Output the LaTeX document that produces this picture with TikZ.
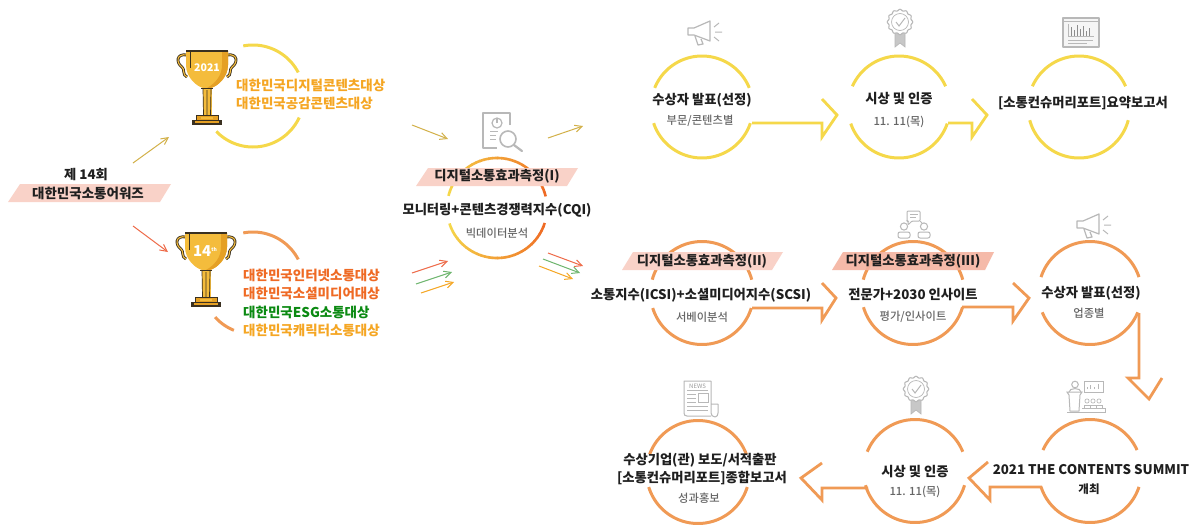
\documentclass[tikz,border=0pt]{standalone}
\usepackage{fontspec}
\setmainfont{Noto Sans CJK KR}
\newfontfamily\subfont{Noto Sans CJK KR Medium}
\usetikzlibrary{arrows.meta}
\definecolor{yel}{HTML}{F5D84A}
\definecolor{org}{HTML}{F09A55}
\definecolor{goldT}{HTML}{F5A623}
\definecolor{redT}{HTML}{EF6A24}
\definecolor{grnT}{HTML}{0B8A12}
\definecolor{ban}{HTML}{F9D2C8}
\definecolor{ban3}{HTML}{F5B3A0}
\definecolor{ico}{HTML}{B8B8B8}
\definecolor{cupA}{HTML}{F4BC3C}
\definecolor{cupB}{HTML}{E5A024}
\definecolor{dk}{HTML}{3A3020}
\definecolor{tgold}{HTML}{D2B048}
\definecolor{tred}{HTML}{EE6A48}
\definecolor{tgrn}{HTML}{6DB56D}
\tikzset{
  x=1pt,y=-1pt,
  main/.style={inner sep=0pt,font=\fontsize{13.3}{15}\selectfont\bfseries,text=black!88},
  sub/.style={inner sep=0pt,font=\subfont\fontsize{11.3}{13}\selectfont,text=black!60},
  award/.style={inner sep=0pt,anchor=west,font=\fontsize{13.5}{15}\selectfont\bfseries},
  fatY/.style={draw=yel,line width=2.8pt,line join=miter,miter limit=6},
  fatO/.style={draw=org,line width=2.8pt,line join=miter,miter limit=6},
  thin/.style={line width=1pt,-{Straight Barb[length=7pt,width=7pt]}},
  ic/.style={draw=ico,line width=1.2pt,line join=round},
  icf/.style={draw=ico,line width=.7pt},
}
\newcommand{\parc}[6]{\draw[#1,line width=#6] plot[domain=#4:#5,samples=50] ({\cx+#2*cos(\x)},{\cy-#2*sin(\x)});}
\newcommand{\ring}[7]{%
  \def\cx{#2}\def\cy{#3}%
  \parc{#1}{#4}{}{180-#5}{#5}{#7}%
  \parc{#1}{#4}{}{180+#6}{360-#6}{#7}%
}
\newcommand{\megaphone}[2]{\begin{scope}[shift={(#1,#2)}]
  \draw[ic] (0,8) -- (0,15) -- (6,15) -- (22,21) -- (22,1) -- (6,8) -- cycle;
  \draw[ic] (7,16) -- (10,25) -- (15,24) -- (13,19);
  \draw[icf,line width=1pt] (26,7) -- (31,3) (27,12) -- (34,12) (26,17) -- (31,21);
\end{scope}}
\newcommand{\badge}[2]{\begin{scope}[shift={(#1,#2)}]
  \draw[icf,fill=black!22] (8,22) -- (8,37) -- (13,33) -- (18,37) -- (18,22) -- cycle;
  \draw[icf,line width=1.1pt,fill=white] plot[domain=0:360,samples=97] ({13+(12+.7*cos(12*\x))*cos(\x)},{12+(12+.7*cos(12*\x))*sin(\x)}) -- cycle;
  \draw[icf] (13,12) circle (8.5);
  \draw[icf,line width=1pt] (9,12) -- (12,16) -- (18,8);
\end{scope}}
\newcommand{\trophy}[2]{\begin{scope}[shift={(#1,#2)}]
  \draw[dk,line width=2.8pt] (-20,5) .. controls (-31,3) and (-31,13) .. (-25,17) .. controls (-22,19) and (-25,25) .. (-20,27);
  \draw[dk,line width=2.8pt] (20,5) .. controls (31,3) and (31,13) .. (25,17) .. controls (22,19) and (25,25) .. (20,27);
  \draw[cupA,line width=1.1pt] (-20,5) .. controls (-31,3) and (-31,13) .. (-25,17) .. controls (-22,19) and (-25,25) .. (-20,27);
  \draw[cupA,line width=1.1pt] (20,5) .. controls (31,3) and (31,13) .. (25,17) .. controls (22,19) and (25,25) .. (20,27);
  \fill[cupA] (-21,1) -- (21,1) -- (21,15) .. controls (21,27) and (11,36) .. (4,38) -- (-4,38) .. controls (-11,36) and (-21,27) .. (-21,15) -- cycle;
  \fill[cupB] (15,1) -- (21,1) -- (21,15) .. controls (21,27) and (11,36) .. (4,38) -- (0,38) .. controls (9,33) and (15,25) .. (15,15) -- cycle;
  \draw[dk,line width=1.1pt] (-21,1) -- (21,1);
  \draw[dk,line width=.8pt] (-17,1) -- (-17,18);
  \draw[dk,line width=.7pt] (-6,38.3) -- (6,38.3);
  \fill[cupA] (-4.5,39) rectangle (4.5,65);
  \draw[dk,line width=.7pt] (-4,39) -- (-3.5,65) (4,39) -- (3.5,65) (0,40) -- (0,65);
  \fill[cupB] (-11,65) rectangle (11,70);
  \draw[dk,line width=.8pt] (-11,70) -- (-11,65) -- (11,65) -- (11,70);
  \fill[cupA] (-6,66.5) rectangle (6,69);
  \fill[dk] (-15,70) rectangle (15,75);
  \fill[cupB] (-12,70.5) rectangle (12,72.5);
\end{scope}}
\begin{document}
\begin{tikzpicture}
\useasboundingbox (0,0) rectangle (1200,531);
\fill[white] (0,0) rectangle (1200,531);

% ---- rings
\ring{yel}{702}{107}{51}{22}{18.5}{3pt}
\ring{yel}{899}{107}{51}{24}{19}{3pt}
\ring{yel}{1079}{107}{51}{24}{15}{3pt}
\ring{org}{702}{293}{51.5}{15}{17}{3pt}
\ring{org}{913}{293}{51.5}{15}{16}{3pt}
\ring{org}{1090}{293}{51.5}{18}{22}{3pt}
\ring{org}{1090}{471}{51.5}{24}{18}{3pt}
\ring{org}{915}{471}{51.5}{22}{16}{3pt}
\ring{org}{698}{472}{51.5}{20}{17}{3pt}

% award arcs
\def\cx{253}\def\cy{96}
\parc{yel}{51}{}{101}{27.5}{3pt}
\parc{yel}{51}{}{224}{335}{3pt}
\def\cx{253}\def\cy{283}
\parc{org}{51}{}{101}{27.5}{3pt}
\parc{org}{51}{}{222}{248}{3pt}

% gradient ring
\def\cx{497}\def\cy{208}
\foreach \i in {0,...,29}{
  \pgfmathsetmacro\pa{166-\i*152/30}
  \pgfmathsetmacro\pb{166-(\i+1)*152/30-.6}
  \pgfmathsetmacro\mix{100-\i*100/29}
  \parc{yel!\mix!redT}{50}{}{\pa}{\pb}{2.6pt}
  \pgfmathsetmacro\pa{198+\i*144/30}
  \pgfmathsetmacro\pb{198+(\i+1)*144/30+.6}
  \parc{yel!\mix!redT}{50}{}{\pa}{\pb}{2.6pt}
}

% ---- banners
\fill[ban] (8,202) -- (20,184) -- (171,184) -- (160,202) -- cycle;
\fill[ban] (416,186) -- (428,168) -- (578,168) -- (567,186) -- cycle;
\fill[ban] (622,270) -- (633,252) -- (783,252) -- (772,270) -- cycle;
\fill[ban3,opacity=.9] (832,270) -- (843,252) -- (994,252) -- (985,270) -- cycle;

% ---- fat arrows
\coordinate (a1s) at (752,123); \coordinate (a1e) at (822,99);
\draw[fatY] (a1s) -- (822,123) -- (822,137) -- (837,115) -- (a1e);
\coordinate (a2s) at (948,123); \coordinate (a2e) at (972,99);
\draw[fatY] (a2s) -- (972,123) -- (972,137) -- (987,115) -- (a2e);
\coordinate (a3s) at (752,308); \coordinate (a3e) at (822,283);
\draw[fatO] (a3s) -- (822,308) -- (822,320) -- (836,298) -- (a3e);
\coordinate (a4s) at (962,307); \coordinate (a4e) at (1013,283);
\draw[fatO] (a4s) -- (1013,307) -- (1013,321) -- (1029,298) -- (a4e);
\coordinate (a5s) at (1139,313); \coordinate (a5e) at (1162,378);
\draw[fatO] (a5s) -- (1139,378) -- (1128,378) -- (1149,399) -- (a5e);
\coordinate (a6s) at (1042,487); \coordinate (a6e) at (988,462);
\draw[fatO] (a6s) -- (990,487) -- (990,500) -- (969,478) -- (a6e);
\coordinate (a7s) at (868,488); \coordinate (a7e) at (822,463);
\draw[fatO] (a7s) -- (822,488) -- (822,500) -- (801,478) -- (a7e);

% ---- thin arrows
\coordinate (t1s) at (133,163); \coordinate (t1e) at (169,137);
\draw[thin,draw=tgold] (t1s) -- (t1e);
\coordinate (t2s) at (133,226); \coordinate (t2e) at (168,252);
\draw[thin,draw=tred] (t2s) -- (t2e);
\coordinate (t3s) at (412,125); \coordinate (t3e) at (448,139);
\draw[thin,draw=tgold] (t3s) -- (t3e);
\coordinate (t4s) at (548,138); \coordinate (t4e) at (583,126);
\draw[thin,draw=tgold] (t4s) -- (t4e);
\coordinate (t5s) at (412,273); \coordinate (t5e) at (448,261);
\draw[thin,draw=tred] (t5s) -- (t5e);
\coordinate (t6s) at (416,284); \coordinate (t6e) at (452,272);
\draw[thin,draw=tgrn] (t6s) -- (t6e);
\coordinate (t7s) at (421,293); \coordinate (t7e) at (454,282);
\draw[thin,draw=goldT] (t7s) -- (t7e);
\coordinate (t8s) at (548,253); \coordinate (t8e) at (583,266);
\draw[thin,draw=tred] (t8s) -- (t8e);
\coordinate (t9s) at (543,259); \coordinate (t9e) at (580,273);
\draw[thin,draw=tgrn] (t9s) -- (t9e);
\coordinate (t10s) at (539,266); \coordinate (t10e) at (573,279);
\draw[thin,draw=goldT] (t10s) -- (t10e);

% ---- trophies
\trophy{207}{50}
\node[inner sep=0pt,text=white,font=\fontsize{10.5}{12}\selectfont\bfseries] (y2021) at (207,68) {2021};
\trophy{206}{232}
\node[inner sep=0pt,text=white,font=\fontsize{15}{16}\selectfont\bfseries] (y14) at (205,251) {14\raisebox{5pt}{\fontsize{5}{5}\selectfont th}};

% ---- icons
\megaphone{688}{20}
\megaphone{1077}{213}
\badge{887}{10}
\badge{903}{377}
% report
\begin{scope}[shift={(1063,18)}]
  \draw[ic,fill=black!4] (0,0) rectangle (36,29);
  \draw[ic] (0,3.5) -- (36,3.5);
  \draw[icf] (5,6) -- (5,18) -- (31,18);
  \foreach \h/\xx in {9/8,6/11,11/14,7/17,10/20,5/23,8/26}{\draw[icf,draw=black!45] (\xx,18) -- (\xx,18-\h);}
  \draw[icf] (5,22) -- (30,22) (5,25) -- (24,25);
\end{scope}
% document + magnifier
\begin{scope}[shift={(483,113)}]
  \draw[ic,line width=1.5pt] (27,12) -- (27,0) -- (0,0) -- (0,35) -- (14,35);
  \draw[ic] (14,10) circle (5);
  \draw[ic] (14,10) -- (14,5);
  \draw[icf] (7,18) -- (15,18) (7,22) -- (13,22) (7,26) -- (13,26);
  \draw[ic,line width=1.6pt,fill=white] (25,26) circle (8);
  \draw[ic,line width=2.2pt,line cap=round] (31,32) -- (39,38);
\end{scope}
% discussion
\begin{scope}[shift={(898,211)}]
  \draw[icf,line width=1pt,rounded corners=1pt] (9,0) -- (22,0) -- (22,10) -- (14,10) -- (10,14) -- (10,10) -- (9,10) -- cycle;
  \draw[icf] (12,3.5) -- (20,3.5) (12,6.5) -- (18,6.5);
  \draw[icf,line width=.9pt] (22,10) -- (24,12);
  \draw[icf,line width=1pt] (6,15.5) circle (3.6) (26,15.5) circle (3.6);
  \draw[icf,line width=1pt,rounded corners=2pt] (0,27) -- (0,21) -- (12,21) -- (12,27) -- cycle;
  \draw[icf,line width=1pt,rounded corners=2pt] (20,27) -- (20,21) -- (32,21) -- (32,27) -- cycle;
\end{scope}
% podium
\begin{scope}[shift={(1067,381)}]
  \draw[icf,line width=1pt] (8,3.5) circle (3.3);
  \draw[icf,line width=1pt] (2,11) .. controls (2,6.5) and (14,6.5) .. (14,11);
  \draw[icf,line width=1pt] (0,11) -- (15,11) -- (13,14) -- (12,30) -- (3,30) -- (2,14) -- cycle;
  \draw[icf,line width=.9pt] (17,0) rectangle (36,11);
  \draw[icf] (20,8) -- (20,6) (23,8) -- (23,4) (27,8) -- (27,6) (31,8) -- (31,3);
  \foreach \xx in {20,26,32}{\draw[icf] (\xx,20) circle (2.1); \draw[icf] (\xx-3,27) -- (\xx-3,24) -- (\xx+3,24) -- (\xx+3,27);}
  \draw[icf,line width=.9pt] (0,31.5) -- (38,31.5) (15,27.5) -- (38,27.5) -- (38,31.5);
\end{scope}
% newspaper
\begin{scope}[shift={(684,381)}]
  \draw[ic,line width=1pt] (27,35) -- (3,35) .. controls (1,35) and (0,34) .. (0,32) -- (0,0) -- (27,0) -- (27,32) .. controls (27,34) and (29,36) .. (31,36) .. controls (33,36) and (34,34) .. (34,32) -- (34,23) -- (27,23);
  \node[inner sep=0pt,text=black!40,font=\fontsize{6}{6}\selectfont] (news) at (13.5,5) {NEWS};
  \draw[icf] (3,9) -- (24,9);
  \draw[icf] (3,13) -- (12,13) (3,17) -- (12,17) (3,21) -- (12,21) (3,25) -- (24,25) (3,29) -- (24,29);
  \draw[icf] (14,12) rectangle (24,21);
\end{scope}

% ---- text
\node[main] (h1) at (86,175) {제 14회};
\node[main,font=\fontsize{13.5}{15}\selectfont\bfseries] (h2) at (88,193) {대한민국소통어워즈};
\node[award,text=goldT] (w1) at (236,85) {대한민국디지털콘텐츠대상};
\node[award,text=goldT] (w2) at (236,103) {대한민국공감콘텐츠대상};
\node[award,text=redT] (w3) at (243,275) {대한민국인터넷소통대상};
\node[award,text=redT] (w4) at (243,293) {대한민국소셜미디어대상};
\node[award,text=grnT] (w5) at (243,312) {대한민국ESG소통대상};
\node[award,text=goldT] (w6) at (243,330) {대한민국캐릭터소통대상};

\node[main] (b1) at (497,176) {디지털소통효과측정(I)};
\node[main] (m1) at (497,210) {모니터링+콘텐츠경쟁력지수(CQI)};
\node[sub] (s1) at (497,233) {빅데이터분석};

\node[main] (m2) at (702,100) {수상자 발표(선정)};
\node[sub] (s2) at (700,121) {부문/콘텐츠별};
\node[main] (m3) at (899,99) {시상 및 인증};
\node[sub] (s3) at (899,122) {11. 11(목)};
\node[main] (m4) at (1083,103) {[소통컨슈머리포트]요약보고서};

\node[main] (b2) at (702,261) {디지털소통효과측정(II)};
\node[main] (m5) at (701,295) {소통지수(ICSI)+소셜미디어지수(SCSI)};
\node[sub] (s5) at (702,317) {서베이분석};
\node[main] (b3) at (913,261) {디지털소통효과측정(III)};
\node[main] (m6) at (913,295) {전문가+2030 인사이트};
\node[sub] (s6) at (913,317) {평가/인사이트};
\node[main] (m7) at (1091,293) {수상자 발표(선정)};
\node[sub] (s7) at (1089,313) {업종별};

\node[main] (m8) at (1091,470) {2021 THE CONTENTS SUMMIT};
\node[main,font=\fontsize{11.5}{13}\selectfont\bfseries] (m8b) at (1089,489) {개최};
\node[main] (m9) at (915,472) {시상 및 인증};
\node[sub] (s9) at (915,492) {11. 11(목)};
\node[main] (m10) at (700,460) {수상기업(관) 보도/서적출판};
\node[main] (m11) at (702,478) {[소통컨슈머리포트]종합보고서};
\node[sub] (s11) at (699,498) {성과홍보};
\end{tikzpicture}
\end{document}
